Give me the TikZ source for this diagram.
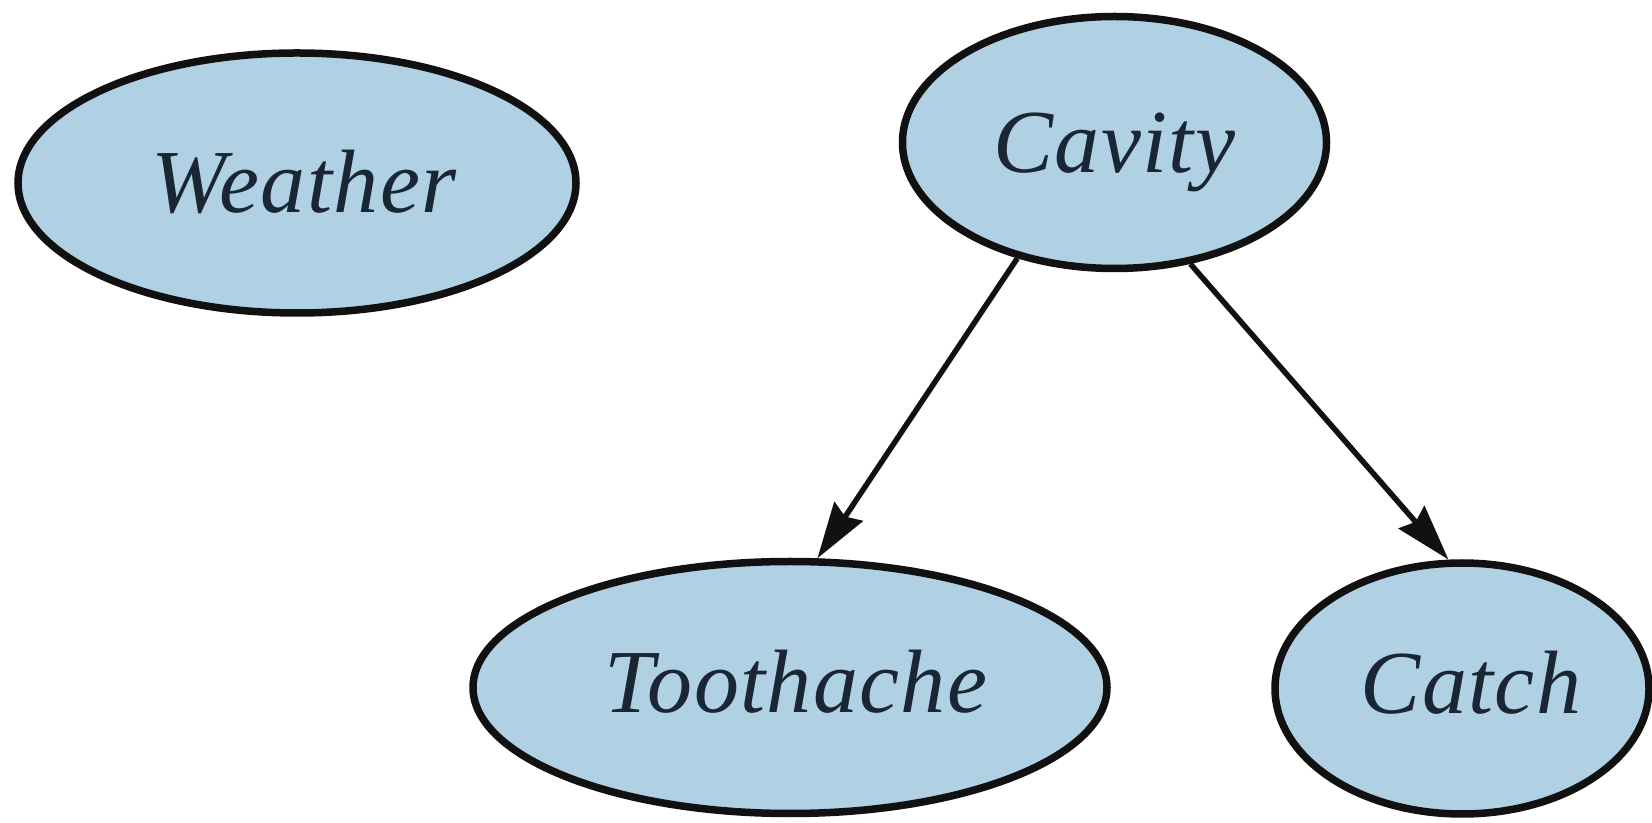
\documentclass[tikz,border=0pt]{standalone}
\usepackage{fontspec}
\setmainfont{Liberation Serif}
\usetikzlibrary{shapes.geometric,arrows.meta}
\definecolor{nodefill}{HTML}{B0D0E3}
\definecolor{nodetext}{HTML}{1A2633}
\definecolor{edge}{HTML}{111111}
\begin{document}
\begin{tikzpicture}[x=1pt,y=1pt,
  bnode/.style={ellipse,draw=edge,fill=nodefill,line width=7.5pt,inner sep=0pt,
    text=nodetext,text height=60pt,text depth=0pt,
    font=\fontsize{90}{100}\selectfont\itshape\addfontfeatures{LetterSpace=1.5}},
  arr/.style={draw=edge,line width=5.5pt,-{Stealth[length=56pt,width=34pt,inset=6pt]}}]
\useasboundingbox (0,0) rectangle (1652,822);
\node[bnode,minimum width=558pt,minimum height=260pt] (wea) at (297,639) {\hspace*{14pt}Weather};
\node[bnode,minimum width=424pt,minimum height=252pt] (cav) at (1114.5,679.5) {Cavity};
\node[bnode,minimum width=634pt,minimum height=252pt,text depth=10pt] (too) at (790,134.5) {\hspace*{12pt}Toothache};
\node[bnode,minimum width=374pt,minimum height=251pt,text depth=10pt] (cat) at (1462,133.5) {\hspace*{18pt}Catch};
\draw[arr] (cav.230) -- (too.78);
\draw[arr] (cav.302) -- (cat.96);
\end{tikzpicture}
\end{document}
